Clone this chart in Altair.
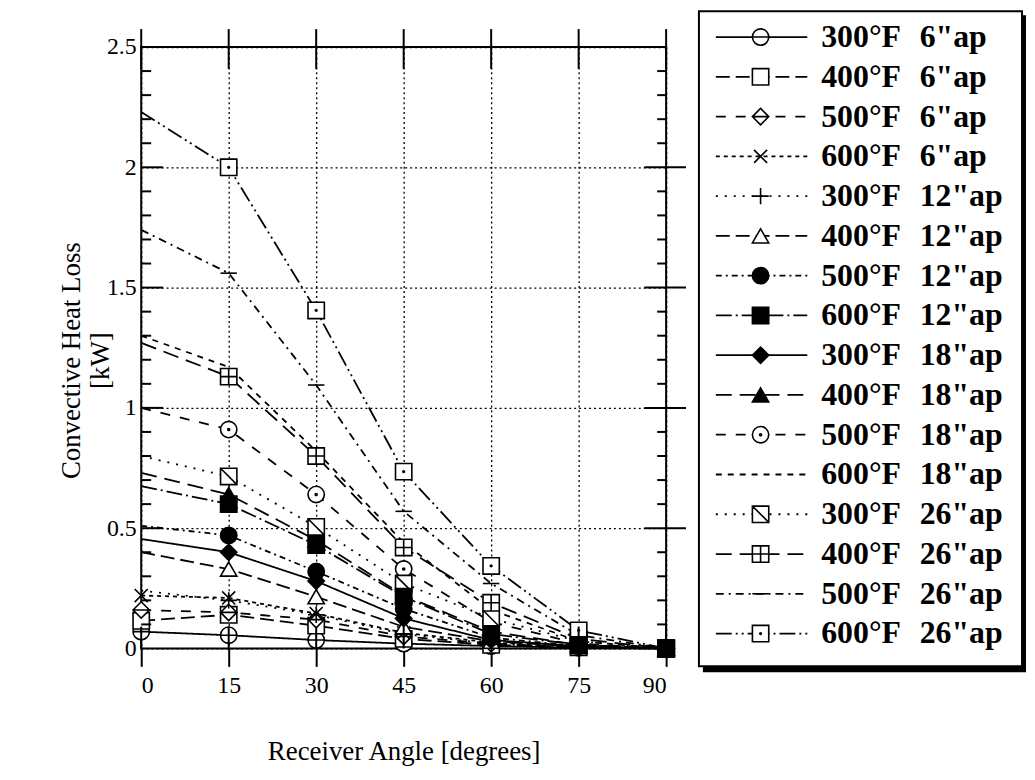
import altair as alt
import pandas as pd

# ---------------- data ----------------
angles = [0, 15, 30, 45, 60, 75, 90]

temps = ["300°F", "400°F", "500°F", "600°F"] * 4
apertures = ['6"ap'] * 4 + ['12"ap'] * 4 + ['18"ap'] * 4 + ['26"ap'] * 4

v300_6 = [0.07, 0.055, 0.035, 0.02, 0.01, 0.003, 0.0]
v400_6 = [0.115, 0.14, 0.095, 0.04, 0.015, 0.005, 0.0]
v500_6 = [0.16, 0.15, 0.12, 0.05, 0.02, 0.006, 0.0]
v600_6 = [0.22, 0.21, 0.145, 0.065, 0.025, 0.007, 0.0]
v300_12 = [0.24, 0.20, 0.14, 0.06, 0.02, 0.005, 0.0]
v400_12 = [0.40, 0.33, 0.215, 0.09, 0.03, 0.008, 0.0]
v500_12 = [0.51, 0.47, 0.32, 0.165, 0.045, 0.01, 0.0]
v600_12 = [0.675, 0.60, 0.43, 0.215, 0.06, 0.015, 0.0]
v300_18 = [0.455, 0.40, 0.28, 0.125, 0.035, 0.01, 0.0]
v400_18 = [0.73, 0.64, 0.45, 0.22, 0.07, 0.015, 0.0]
v500_18 = [1.00, 0.91, 0.64, 0.33, 0.11, 0.02, 0.0]
v600_18 = [1.30, 1.17, 0.82, 0.44, 0.16, 0.03, 0.0]
v300_26 = [0.80, 0.715, 0.505, 0.27, 0.125, 0.03, 0.0]
v400_26 = [1.27, 1.13, 0.80, 0.42, 0.19, 0.04, 0.0]
v500_26 = [1.74, 1.56, 1.095, 0.57, 0.27, 0.055, 0.0]
v600_26 = [2.23, 2.00, 1.405, 0.735, 0.343, 0.075, 0.0]

series_values = [v300_6, v400_6, v500_6, v600_6,
                 v300_12, v400_12, v500_12, v600_12,
                 v300_18, v400_18, v500_18, v600_18,
                 v300_26, v400_26, v500_26, v600_26]

x_ticks = [0, 15, 30, 45, 60, 75, 90]
y_labels = [0, 0.5, 1, 1.5, 2, 2.5]
y_major_inner = [0.5, 1, 1.5, 2]
y_minor = [0.1, 0.2, 0.3, 0.4, 0.6, 0.7, 0.8, 0.9, 1.1, 1.2, 1.3, 1.4,
           1.6, 1.7, 1.8, 1.9, 2.1, 2.2, 2.3, 2.4]

names = [f"{t} {a}" for t, a in zip(temps, apertures)]

# ---------------- styles ----------------
CIRC = "M-1,0A1,1 0 1,1 1,0A1,1 0 1,1 -1,0Z"
SQ = "M-1,-1H1V1H-1Z"
shapes = [
    CIRC + "M-1,0H1",                       # 300 6
    SQ,                                     # 400 6
    "M0,-1L1,0L0,1L-1,0ZM-1,0H1",           # 500 6
    "M-0.8,-0.8L0.8,0.8M-0.8,0.8L0.8,-0.8", # 600 6
    "M-1,0H1M0,-1V1",                       # 300 12
    "triangle-up",                          # 400 12
    "circle",                               # 500 12
    "square",                               # 600 12
    "diamond",                              # 300 18
    "triangle-up",                          # 400 18
    CIRC + "M-0.12,0A0.12,0.12 0 1,1 0.12,0A0.12,0.12 0 1,1 -0.12,0Z",  # 500 18
    "M0,0",                                 # 600 18 (no marker)
    SQ + "M-1,-1L1,1",                      # 300 26
    SQ + "M-1,0H1M0,-1V1",                  # 400 26
    "M-1,0H1",                              # 500 26
    SQ + "M-0.1,0A0.1,0.1 0 1,1 0.1,0A0.1,0.1 0 1,1 -0.1,0Z",  # 600 26
]
fills = ["white", "white", "white", "white",
         "white", "white", "black", "black",
         "black", "black", "white", "white",
         "white", "white", "white", "white"]
dashes = [[1, 0], [14, 6], [10, 10], [4, 4],
          [2, 7], [14, 6], [6, 4, 2, 4], [16, 4, 2, 4],
          [1, 0], [16, 8], [10, 10], [6, 6],
          [2, 7], [16, 8], [8, 5, 2, 5], [16, 4, 2, 4, 2, 4]]

dash_scale = alt.Scale(domain=names, range=dashes)
shape_scale = alt.Scale(domain=names, range=shapes)
fill_scale = alt.Scale(domain=names, range=fills)

FONT = "Liberation Serif"
LW = 1.8

# ---------------- tables ----------------
rows = []
for n, vals in zip(names, series_values):
    for a, v in zip(angles, vals):
        rows.append({"name": n, "angle": a, "value": v})
df = pd.DataFrame(rows)

prow = []
order = [i for i in range(16) if i != 7] + [7]
for i in order:
    if i == 11:
        continue
    for j, (a, v) in enumerate(zip(angles, series_values[i])):
        if j == 0 and i > 3:
            continue
        prow.append({"name": names[i], "angle": a, "value": v})
pts = pd.DataFrame(prow)

leg = pd.DataFrame({"name": names, "row": list(range(16)),
                    "temp": temps, "ap": apertures})

xscale = alt.Scale(domain=[0, 90], nice=False)
yscale = alt.Scale(domain=[0, 2.5], nice=False, zero=True)

x_axis = alt.Axis(values=x_ticks, title="Receiver Angle [degrees]",
                  grid=True, gridDash=[2, 3], gridColor="black",
                  gridWidth=1.3, gridOpacity=1, domain=False,
                  tickSize=18, tickWidth=2, tickColor="black",
                  labelPadding=7, titlePadding=42)
y_axis = alt.Axis(values=y_labels, format="~g",
                  title=["Convective Heat Loss", "[kW]"],
                  grid=True, gridDash=[2, 3], gridColor="black",
                  gridWidth=1.3, gridOpacity=1, domain=False,
                  ticks=False, labelPadding=5,
                  titleAngle=-90, titleX=-56, titleY=315,
                  titleAlign="center", titleBaseline="bottom")

# ---------------- plot ----------------
lines = alt.Chart(df).mark_line(color="black", strokeWidth=LW).encode(
    x=alt.X("angle:Q", scale=xscale, axis=x_axis),
    y=alt.Y("value:Q", scale=yscale, axis=y_axis),
    strokeDash=alt.StrokeDash("name:N", scale=dash_scale, legend=None),
)

points = alt.Chart(pts).mark_point(
    filled=True, stroke="black", strokeWidth=1.6, size=270, opacity=1
).encode(
    x=alt.X("angle:Q", scale=xscale, axis=x_axis),
    y=alt.Y("value:Q", scale=yscale, axis=y_axis),
    shape=alt.Shape("name:N", scale=shape_scale, legend=None),
    fill=alt.Fill("name:N", scale=fill_scale, legend=None),
)

xt = pd.DataFrame({"angle": x_ticks})
top_ticks = alt.Chart(xt).mark_rule(color="black", strokeWidth=2).encode(
    x=alt.X("angle:Q", scale=xscale, axis=x_axis),
    y=alt.value(-18), y2=alt.value(22))
bot_ticks = alt.Chart(xt).mark_rule(color="black", strokeWidth=2).encode(
    x=alt.X("angle:Q", scale=xscale, axis=x_axis),
    y=alt.value(583), y2=alt.value(605))

ymaj = pd.DataFrame({"value": y_major_inner})
ymin = pd.DataFrame({"value": y_minor})
left_major = alt.Chart(ymaj).mark_rule(color="black", strokeWidth=2).encode(
    y=alt.Y("value:Q", scale=yscale, axis=y_axis), x=alt.value(0), x2=alt.value(22))
left_minor = alt.Chart(ymin).mark_rule(color="black", strokeWidth=2).encode(
    y=alt.Y("value:Q", scale=yscale, axis=y_axis), x=alt.value(0), x2=alt.value(10))
right_major = alt.Chart(ymaj).mark_rule(color="black", strokeWidth=2).encode(
    y=alt.Y("value:Q", scale=yscale, axis=y_axis), x=alt.value(506), x2=alt.value(548))
right_minor = alt.Chart(ymin).mark_rule(color="black", strokeWidth=2).encode(
    y=alt.Y("value:Q", scale=yscale, axis=y_axis), x=alt.value(519), x2=alt.value(528))

plot = alt.layer(lines, points, top_ticks, bot_ticks,
                 left_major, left_minor, right_major, right_minor)

# ---------------- legend ----------------
one = pd.DataFrame({"a": [0]})
shadow = alt.Chart(one).mark_rect(color="black").encode(
    x=alt.value(565), x2=alt.value(890), y=alt.value(-32), y2=alt.value(629))
box = alt.Chart(one).mark_rect(fill="white", stroke="black", strokeWidth=2).encode(
    x=alt.value(561), x2=alt.value(886), y=alt.value(-36), y2=alt.value(623))

ly = alt.Y("row:Q", scale=alt.Scale(domain=[0, 15], range=[-10, 590]), axis=None)
leg_lines = alt.Chart(leg).mark_rule(color="black", strokeWidth=LW).encode(
    y=ly, x=alt.value(578), x2=alt.value(670),
    strokeDash=alt.StrokeDash("name:N", scale=dash_scale, legend=None))
leg_pts = alt.Chart(leg).mark_point(
    filled=True, stroke="black", strokeWidth=1.6, size=270, opacity=1
).encode(
    y=ly, x=alt.value(623),
    shape=alt.Shape("name:N", scale=shape_scale, legend=None),
    fill=alt.Fill("name:N", scale=fill_scale, legend=None))
leg_temp = alt.Chart(leg).mark_text(
    font=FONT, fontSize=32, fontWeight="bold", align="left",
    baseline="middle", color="black"
).encode(y=ly, x=alt.value(684), text="temp:N")
leg_ap = alt.Chart(leg).mark_text(
    font=FONT, fontSize=32, fontWeight="bold", align="left",
    baseline="middle", color="black"
).encode(y=ly, x=alt.value(783), text="ap:N")

legend = alt.layer(shadow, box, leg_lines, leg_pts, leg_temp, leg_ap)

chart = alt.layer(plot, legend).resolve_scale(y="independent").properties(
    width=528, height=605,
    autosize=alt.AutoSizeParams(type="none"),
    padding={"left": 134, "top": 37, "right": 363, "bottom": 118},
    background="white",
).configure_view(
    stroke="black", strokeWidth=2
).configure_axis(
    labelFont=FONT, labelFontSize=24, labelColor="black",
    titleFont=FONT, titleFontSize=27, titleFontWeight="normal",
    titleColor="black",
)

chart.save("out.html", embed_options={"renderer": "svg", "actions": False})
